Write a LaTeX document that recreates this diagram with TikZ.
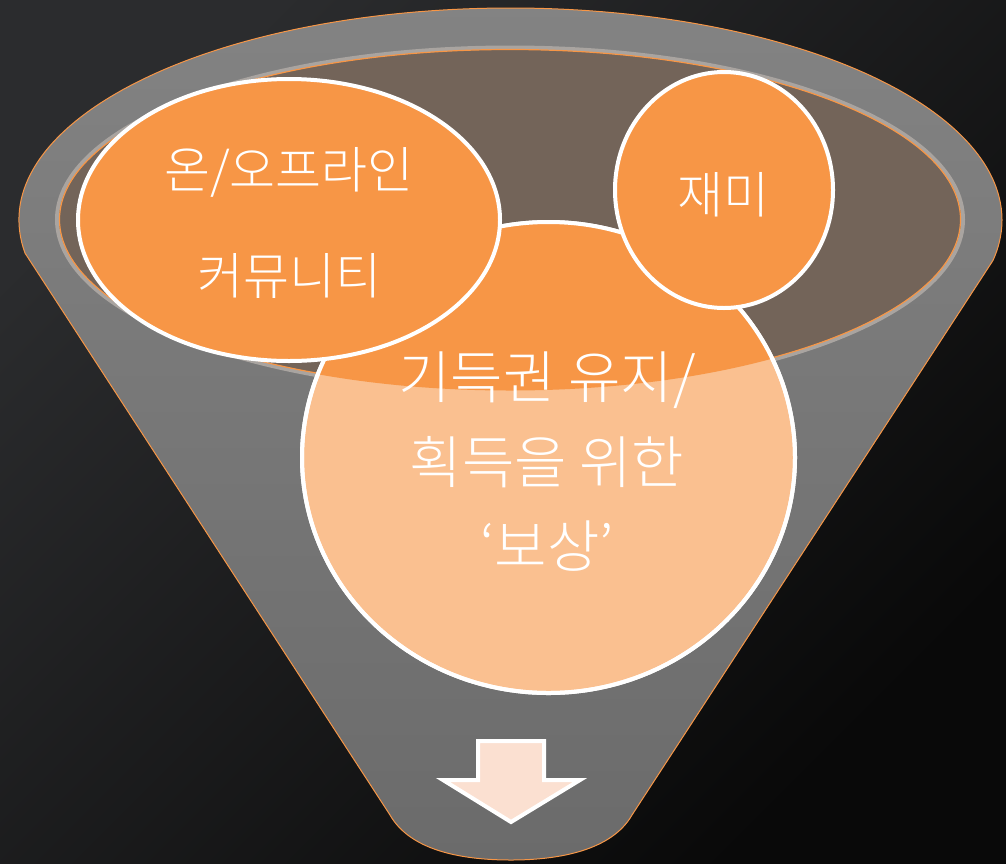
\documentclass[tikz,border=0pt]{standalone}
\usepackage{fontspec}
\newfontfamily\kr{Noto Sans CJK KR Light}
\usetikzlibrary{shapes.geometric}
\definecolor{org}{HTML}{F79646}
\definecolor{lorg}{HTML}{FAC090}
\definecolor{brn}{HTML}{736459}
\definecolor{band}{HTML}{A9A4A0}
\definecolor{arrowfill}{HTML}{FBE0D1}
\definecolor{bgA}{HTML}{2B2C2E}
\definecolor{bgB}{HTML}{090909}
\definecolor{fA}{HTML}{838383}
\definecolor{fB}{HTML}{6B6B6B}
\tikzset{
  bubble/.style={ellipse, draw=white, line width=4pt, fill=org, inner sep=0pt},
  lbl/.style={text=white, inner sep=0pt, font=\kr\fontsize{50}{50}\selectfont},
  biglbl/.style={text=white, inner sep=0pt, font=\kr\fontsize{57}{57}\selectfont},
}
\begin{document}
\begin{tikzpicture}[x=1pt,y=-1pt]
\useasboundingbox (0,0) rectangle (1006,863);
% background
\shade[top color=bgA, bottom color=bgB, shading angle=45] (0,0) rectangle (1006,863);
% funnel body
\shade[top color=fA, bottom color=fB, draw=org, line width=1pt]
  (510.5,220) ++(189:491.5pt and 212pt)
  arc[start angle=189, end angle=-11, x radius=491.5pt, y radius=212pt]
  -- (632,815) .. controls (612,850) and (560,860) .. (511,860)
  .. controls (460,860) and (410,850) .. (390,815) -- cycle;
% inner opening
\fill[brn] (510,219.5) ellipse[x radius=453pt, y radius=172pt];
\draw[band, line width=4pt] (510,219.5) ellipse[x radius=453pt, y radius=172pt];
\draw[org, line width=1.2pt] (510,219.5) ellipse[x radius=450.5pt, y radius=170pt];
% big circle
\node[bubble, fill=lorg, minimum width=493pt, minimum height=471pt] (reward) at (548.5,457.5) {};
\begin{scope}
  \clip (510,219.5) ellipse[x radius=451pt, y radius=171pt];
  \fill[org] (548.5,457.5) ellipse[x radius=246.5pt, y radius=235.5pt];
\end{scope}
\draw[white, line width=4pt] (548.5,457.5) ellipse[x radius=246.5pt, y radius=235.5pt];
% small bubbles
\node[bubble, minimum width=422pt, minimum height=282pt] (community) at (289,220) {};
\node[bubble, minimum width=218pt, minimum height=236pt] (fun) at (724,190) {};
% labels
\node[lbl] (c1) at (289,172) {온/오프라인};
\node[lbl] (c2) at (289,276) {커뮤니티};
\node[lbl] (f1) at (723,195) {재미};
\node[biglbl] (r1) at (547,380) {기득권 유지/};
\node[biglbl] (r2) at (547,462) {획득을 위한};
\node[biglbl] (r3) at (547,546) {‘보상’};
% arrow
\draw[white, fill=arrowfill, line width=4pt, line join=miter]
  (478,741) -- (544,741) -- (544,780) -- (580,780) -- (511,822) -- (443,780) -- (478,780) -- cycle;
\end{tikzpicture}
\end{document}
